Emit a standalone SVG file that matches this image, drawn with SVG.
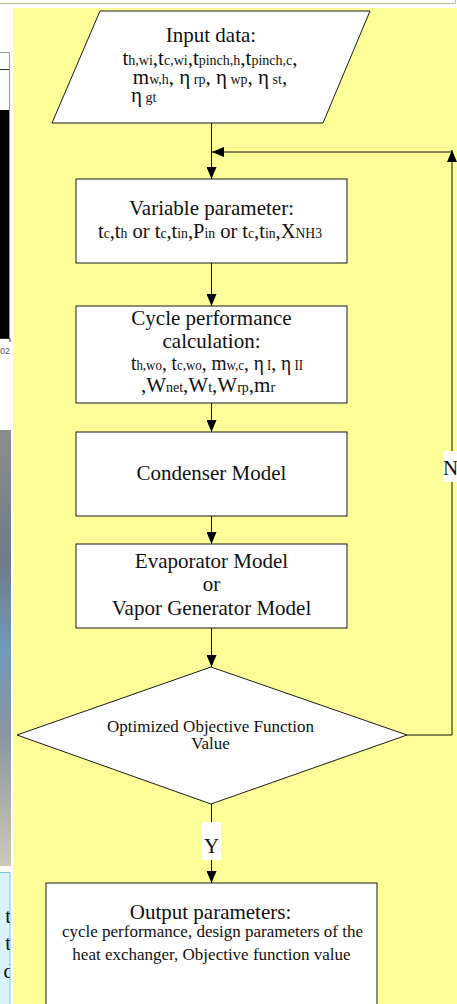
<svg xmlns="http://www.w3.org/2000/svg" width="457" height="1004" viewBox="0 0 457 1004">
<style>
.box{fill:#fff;stroke:#1a1a1a;stroke-width:1}
.big{font-family:"Liberation Serif",serif;font-size:21px;fill:#111}
.mid{font-family:"Liberation Serif",serif;font-size:17px;fill:#111}
.sm{font-size:14px}
.ln{stroke:#111;stroke-width:1;fill:none}
</style>
<defs>
<marker id="ah" viewBox="0 0 12 10" refX="12" refY="5" markerWidth="12" markerHeight="10" markerUnits="userSpaceOnUse" orient="auto"><path d="M0,0 L12,5 L0,10 z" fill="#000"/></marker>
<linearGradient id="photo" x1="0" y1="0" x2="0" y2="1">
<stop offset="0" stop-color="#8c8c8c"/>
<stop offset="0.3" stop-color="#6f7c88"/>
<stop offset="0.5" stop-color="#6f98b8"/>
<stop offset="0.7" stop-color="#8a96a0"/>
<stop offset="1" stop-color="#cfc8b8"/>
</linearGradient>
<clipPath id="lc"><rect x="0" y="872" width="10" height="132"/></clipPath>
</defs>
<g id="background">
<rect x="0" y="0" width="457" height="1004" fill="#fff"/>
<rect x="13" y="8" width="444" height="996" fill="#ffff99"/>
<path d="M0,3.5 H455.5 V0" stroke="#b8c690" fill="none"/>
<path d="M0,52.5 H9.5 V338" stroke="#999" fill="none"/>
<path d="M0,69.5 H9" stroke="#333"/>
<rect x="0" y="110" width="9" height="228" fill="#000"/>
<path d="M0,338.5 H10 V342" stroke="#333" fill="none"/>
<text x="0" y="354" font-family="Liberation Sans,sans-serif" font-size="9" fill="#555">02</text>
<rect x="0" y="430" width="11" height="436" fill="url(#photo)"/>
<rect x="-1" y="872.5" width="11" height="140" fill="#d8f4ff" stroke="#7cc4dc"/>
<g clip-path="url(#lc)" class="big">
<text x="11" y="923" text-anchor="end">t</text>
<text x="11" y="950" text-anchor="end">t</text>
<text x="14" y="978" text-anchor="end">d</text>
</g>
</g>
<g id="connectors">
<line class="ln" x1="211.5" y1="123" x2="211.5" y2="179" marker-end="url(#ah)"/>
<line class="ln" x1="452" y1="152" x2="212" y2="152" marker-end="url(#ah)"/>
<line class="ln" x1="452" y1="735" x2="452" y2="150" marker-end="url(#ah)"/>
<line class="ln" x1="407" y1="735" x2="452" y2="735"/>
<line class="ln" x1="211.5" y1="263" x2="211.5" y2="306" marker-end="url(#ah)"/>
<line class="ln" x1="211.5" y1="403" x2="211.5" y2="432" marker-end="url(#ah)"/>
<line class="ln" x1="211.5" y1="516" x2="211.5" y2="544" marker-end="url(#ah)"/>
<line class="ln" x1="211.5" y1="628" x2="211.5" y2="667" marker-end="url(#ah)"/>
<line class="ln" x1="211.5" y1="804" x2="211.5" y2="883" marker-end="url(#ah)"/>
<rect x="202" y="822" width="19" height="38" fill="#fff"/>
<text class="big" x="211.5" y="853" text-anchor="middle" font-size="26">Y</text>
<rect x="443" y="451" width="14" height="31" fill="#fff"/>
<text class="big" x="443" y="475" font-size="24">N</text>
</g>
<g id="input">
<polygon class="box" points="100,11 370,11 323,123 52,123"/>
<text class="big" x="211" y="42" text-anchor="middle">Input data:</text>
<text class="big" x="210" y="65" text-anchor="middle">t<tspan class="sm">h,wi</tspan>,t<tspan class="sm">c,wi</tspan>,t<tspan class="sm">pinch,h</tspan>,t<tspan class="sm">pinch,c</tspan>,</text>
<text class="big" x="210" y="84" text-anchor="middle">m<tspan class="sm">w,h</tspan>, η<tspan class="sm"> rp</tspan>, η<tspan class="sm"> wp</tspan>, η<tspan class="sm"> st</tspan>,</text>
<text class="big" x="131" y="102">η<tspan class="sm"> gt</tspan></text>
</g>
<g id="variable">
<rect class="box" x="76" y="179" width="271" height="84"/>
<text class="big" x="211.5" y="215" text-anchor="middle">Variable parameter:</text>
<text class="big" x="210" y="238" text-anchor="middle" textLength="224" lengthAdjust="spacingAndGlyphs">t<tspan class="sm">c</tspan>,t<tspan class="sm">h</tspan> or t<tspan class="sm">c</tspan>,t<tspan class="sm">in</tspan>,P<tspan class="sm">in</tspan> or t<tspan class="sm">c</tspan>,t<tspan class="sm">in</tspan>,X<tspan class="sm">NH3</tspan></text>
</g>
<g id="cycle">
<rect class="box" x="76" y="306" width="271" height="97"/>
<text class="big" x="211.5" y="325" text-anchor="middle">Cycle performance</text>
<text class="big" x="211.5" y="348" text-anchor="middle">calculation:</text>
<text class="big" x="217" y="370" text-anchor="middle" textLength="172" lengthAdjust="spacingAndGlyphs">t<tspan class="sm">h,wo</tspan>, t<tspan class="sm">c,wo</tspan>, m<tspan class="sm">w,c</tspan>, η<tspan class="sm"> I</tspan>, η<tspan class="sm"> II</tspan></text>
<text class="big" x="208" y="392" text-anchor="middle">,W<tspan class="sm">net</tspan>,W<tspan class="sm">t</tspan>,W<tspan class="sm">rp</tspan>,m<tspan class="sm">r</tspan></text>
</g>
<g id="condenser">
<rect class="box" x="76" y="432" width="271" height="84"/>
<text class="big" x="211.5" y="480" text-anchor="middle">Condenser Model</text>
</g>
<g id="evaporator">
<rect class="box" x="76" y="544" width="271" height="84"/>
<text class="big" x="211.5" y="568" text-anchor="middle">Evaporator Model</text>
<text class="big" x="211.5" y="591" text-anchor="middle">or</text>
<text class="big" x="211.5" y="615" text-anchor="middle">Vapor Generator Model</text>
</g>
<g id="decision">
<polygon class="box" points="211,667 407,735 211,804 17,735"/>
<text class="mid" x="210.5" y="732" text-anchor="middle">Optimized Objective Function</text>
<text class="mid" x="210.5" y="749" text-anchor="middle">Value</text>
</g>
<g id="output">
<rect class="box" x="46" y="883" width="331" height="130"/>
<text class="big" x="210.5" y="919" text-anchor="middle">Output parameters:</text>
<text class="mid" x="212.5" y="937" text-anchor="middle">cycle performance, design parameters of the</text>
<text class="mid" x="211.5" y="960" text-anchor="middle">heat exchanger, Objective function value</text>
</g>
</svg>
